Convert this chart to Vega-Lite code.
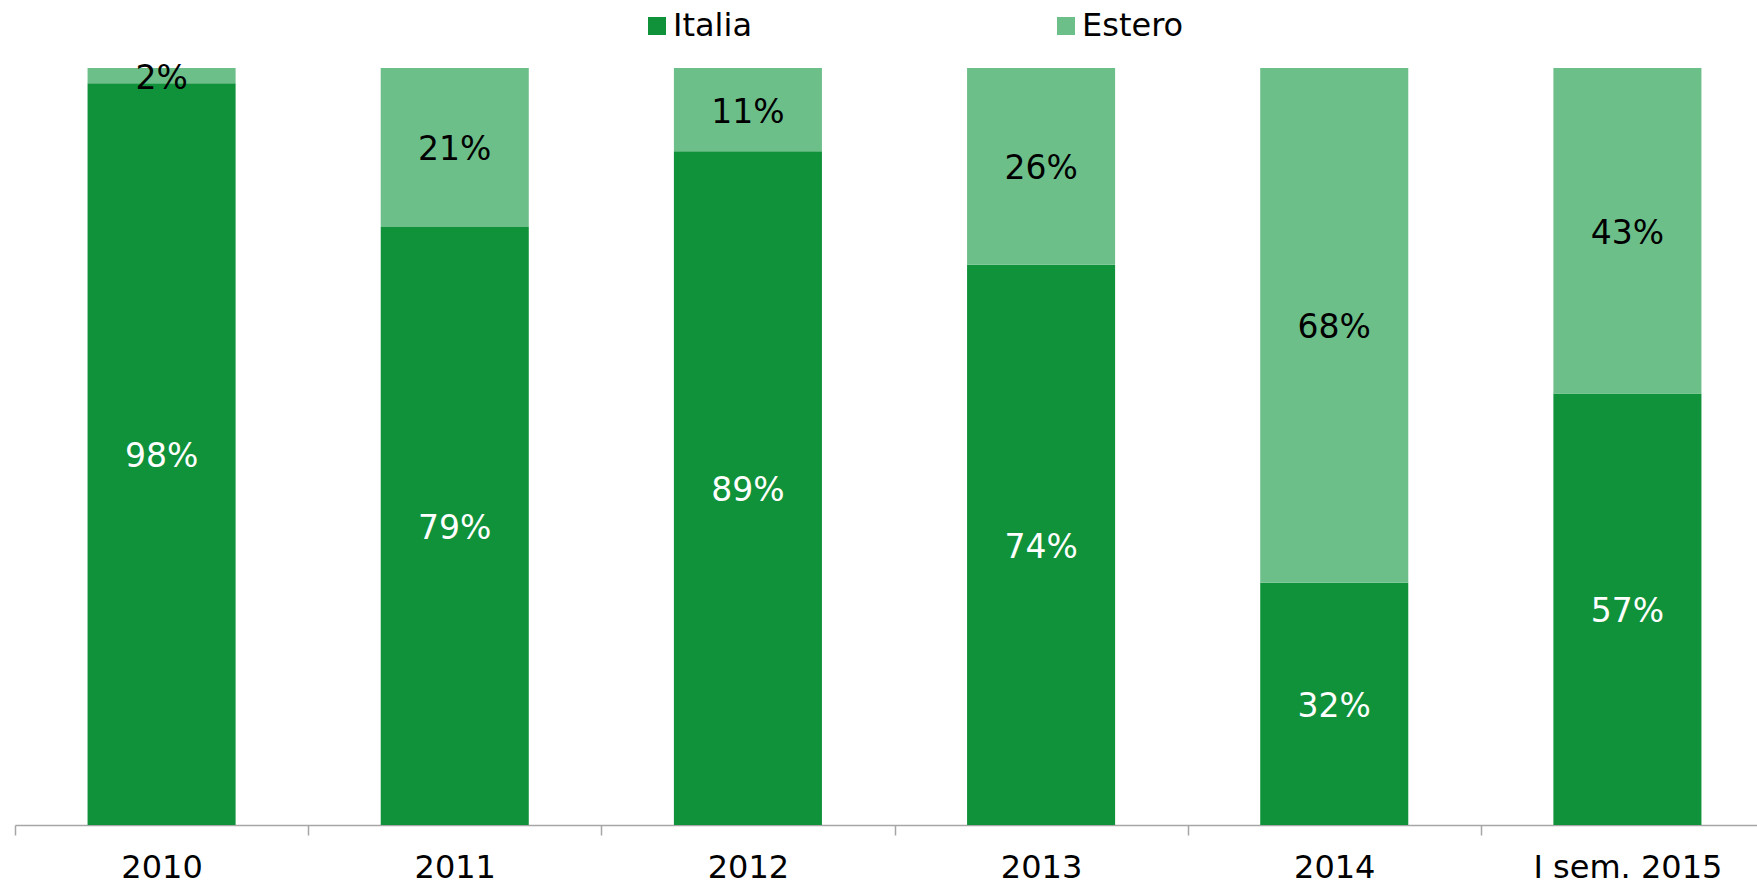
{
  "$schema": "https://vega.github.io/schema/vega-lite/v6.json",
  "width": 1759,
  "height": 757,
  "autosize": "none",
  "padding": {"left": 15, "top": 68, "right": 0, "bottom": 59},
  "background": "white",
  "config": {
    "view": {"stroke": null},
    "font": "DejaVu Sans"
  },
  "data": {
    "values": [
      {"anno": "2010", "serie": "Italia", "valore": 0.98},
      {"anno": "2010", "serie": "Estero", "valore": 0.02},
      {"anno": "2011", "serie": "Italia", "valore": 0.79},
      {"anno": "2011", "serie": "Estero", "valore": 0.21},
      {"anno": "2012", "serie": "Italia", "valore": 0.89},
      {"anno": "2012", "serie": "Estero", "valore": 0.11},
      {"anno": "2013", "serie": "Italia", "valore": 0.74},
      {"anno": "2013", "serie": "Estero", "valore": 0.26},
      {"anno": "2014", "serie": "Italia", "valore": 0.32},
      {"anno": "2014", "serie": "Estero", "valore": 0.68},
      {"anno": "I sem. 2015", "serie": "Italia", "valore": 0.57},
      {"anno": "I sem. 2015", "serie": "Estero", "valore": 0.43}
    ]
  },
  "encoding": {
    "x": {
      "field": "anno",
      "type": "nominal",
      "sort": null,
      "scale": {"paddingInner": 0, "paddingOuter": 0},
      "axis": {
        "title": null,
        "labelAngle": 0,
        "labelFontSize": 32,
        "labelColor": "#000000",
        "labelPadding": 17,
        "labelLimit": 400,
        "tickBand": "extent",
        "tickSize": 10,
        "tickColor": "#A6A6A6",
        "domainColor": "#A6A6A6",
        "domainWidth": 1.5,
        "tickWidth": 1.5,
        "grid": false
      }
    },
    "y": {
      "field": "valore",
      "type": "quantitative",
      "stack": "zero",
      "scale": {"domain": [0, 1], "nice": false},
      "axis": null
    },
    "order": {"field": "serie", "sort": "descending"}
  },
  "layer": [
    {
      "mark": {"type": "bar", "width": {"band": 0.505}},
      "encoding": {
        "color": {
          "field": "serie",
          "type": "nominal",
          "scale": {"domain": ["Italia", "Estero"], "range": ["#0F923A", "#6DBF8A"]},
          "legend": {
            "title": null,
            "orient": "none",
            "direction": "horizontal",
            "legendX": 626,
            "legendY": -58,
            "symbolType": "square",
            "symbolSize": 324,
            "symbolStrokeWidth": 0,
            "labelFontSize": 32,
            "labelColor": "#000000",
            "labelOffset": 0,
            "columnPadding": 298,
            "labelLimit": 300
          }
        }
      }
    },
    {
      "mark": {"type": "text", "fontSize": 33, "baseline": "middle", "align": "center", "dy": 3},
      "encoding": {
        "y": {
          "field": "valore",
          "type": "quantitative",
          "stack": "zero",
          "bandPosition": 0.5
        },
        "text": {"field": "valore", "type": "quantitative", "format": ".0%"},
        "color": {
          "condition": {"test": "datum.serie === 'Italia'", "value": "#FFFFFF"},
          "value": "#000000"
        }
      }
    }
  ]
}
